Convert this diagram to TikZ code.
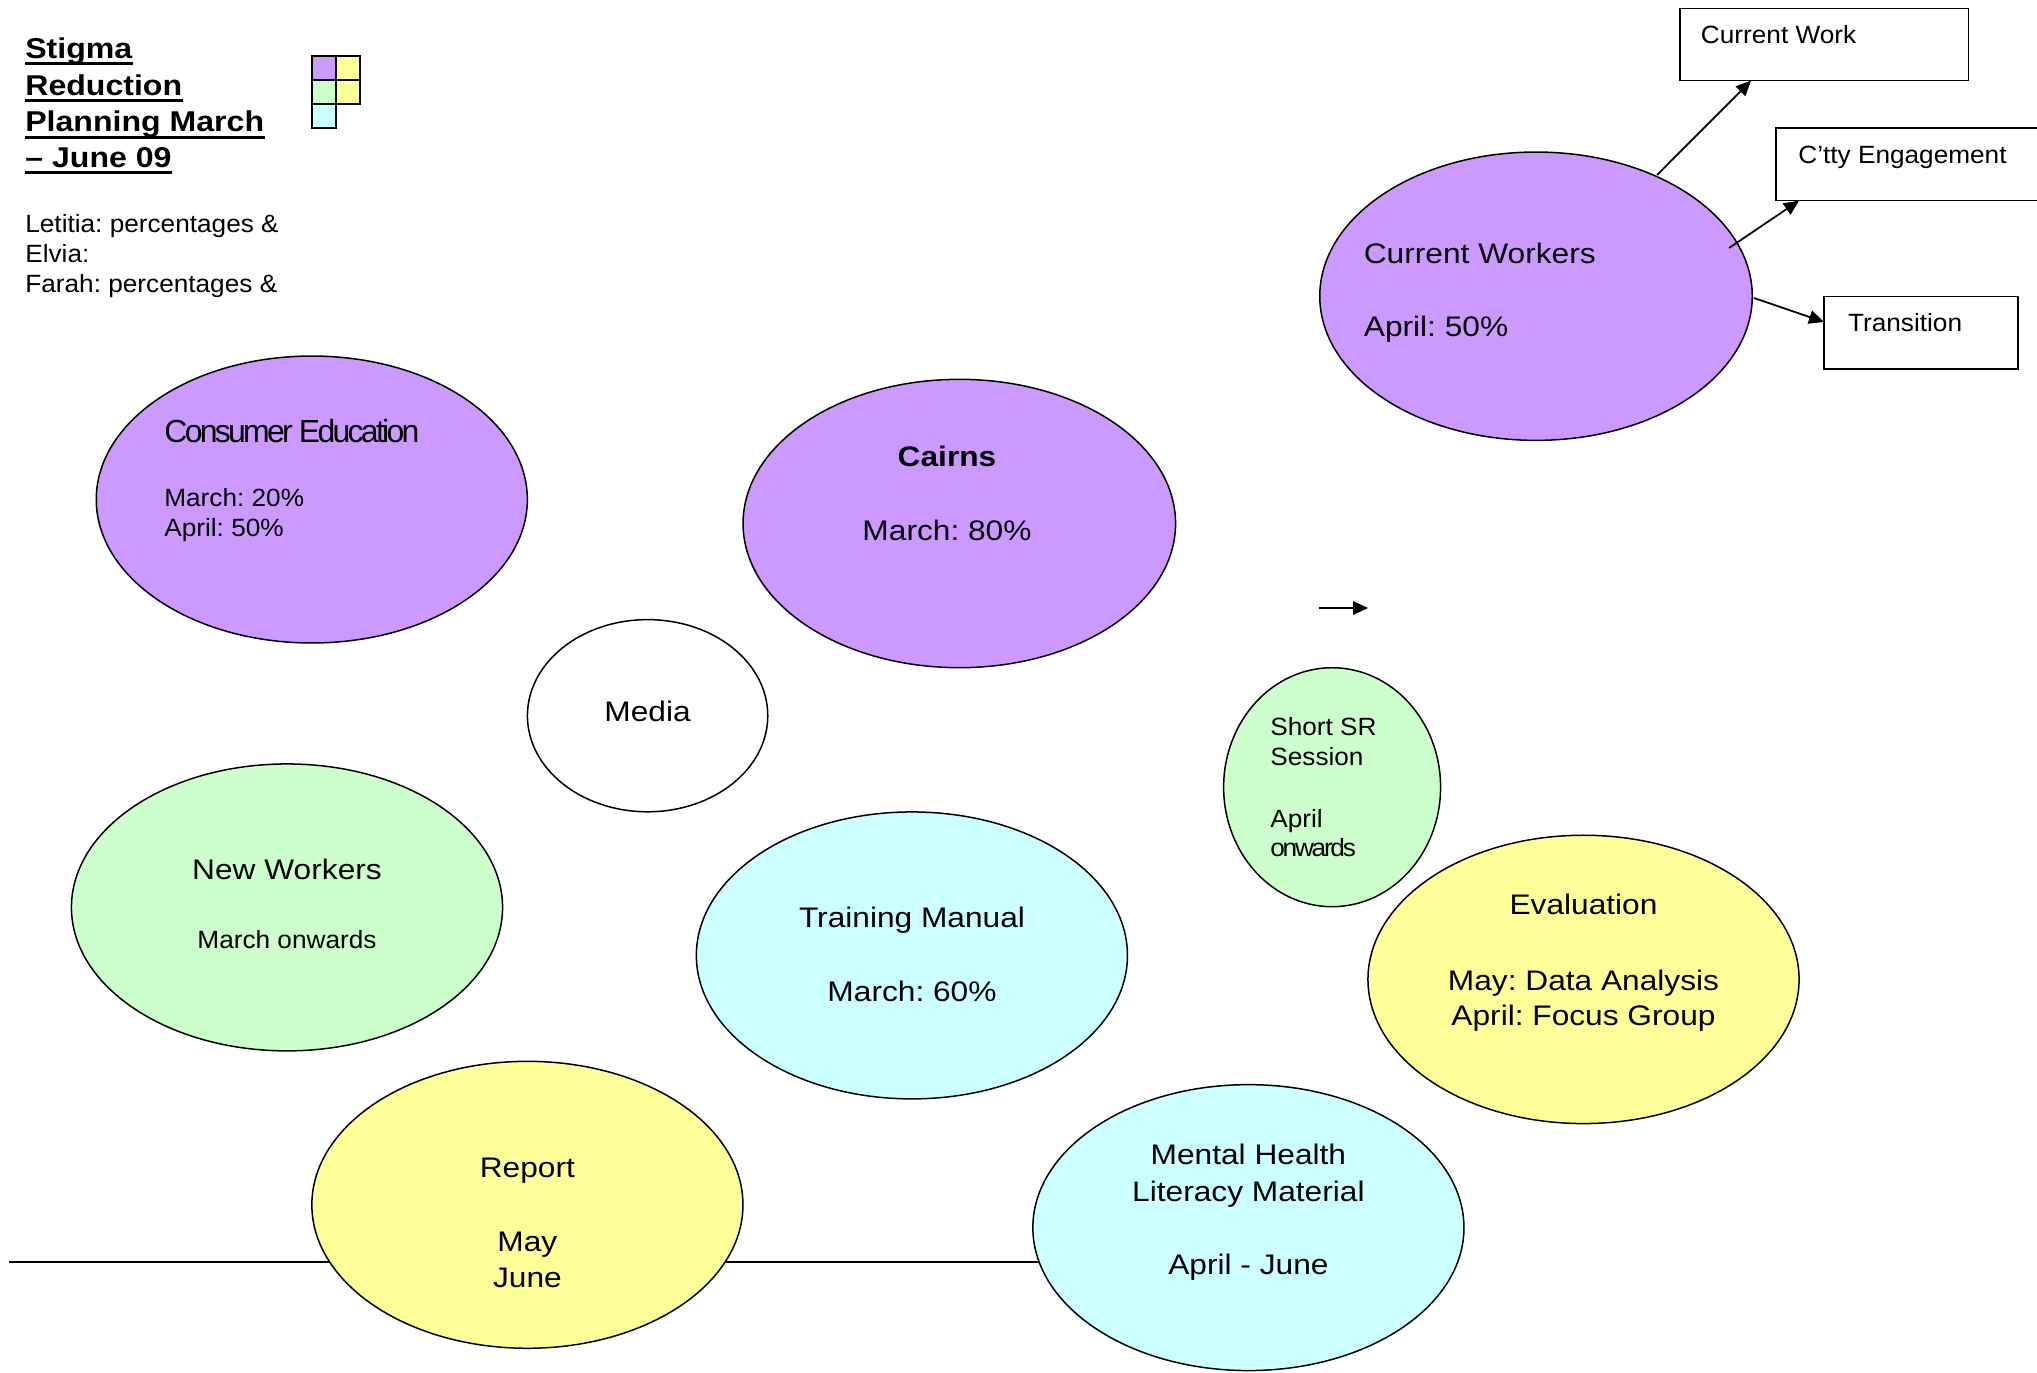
\documentclass[tikz,border=0pt]{standalone}
\usepackage{fontspec}
\setmainfont{Liberation Sans}
\newfontfamily\bigfam[FakeStretch=1.12]{Liberation Sans}
\newfontfamily\smallfam[FakeStretch=1.05]{Liberation Sans}
\newfontfamily\condfam[LetterSpace=-8.5]{Liberation Sans}
\newfontfamily\condsmallfam[FakeStretch=1.05,LetterSpace=-9]{Liberation Sans}
\usetikzlibrary{shapes.geometric,arrows.meta}
\definecolor{cpurple}{HTML}{CC99FF}
\definecolor{cyellow}{HTML}{FFFF99}
\definecolor{cgreen}{HTML}{CCFFCC}
\definecolor{ccyan}{HTML}{CCFFFF}
\newcommand\fbig{\bigfam\fontsize{16.1}{19}\selectfont}
\newcommand\ftitle{\bigfam\bfseries\fontsize{16.3}{19}\selectfont}
\newcommand\fsmall{\smallfam\fontsize{14.2}{17}\selectfont}
\newcommand\fcond{\condfam\fontsize{18.2}{21}\selectfont}
\newcommand\fcondsmall{\condsmallfam\fontsize{14.2}{17}\selectfont}
\frenchspacing
\tikzset{
  bub/.style={ellipse, draw, line width=0.85pt, inner sep=0pt},
  tc/.style={anchor=base, inner sep=0pt, font=\fbig},
  tl/.style={anchor=base west, inner sep=0pt, font=\fbig},
  tls/.style={anchor=base west, inner sep=0pt, font=\fsmall},
  tcs/.style={anchor=base, inner sep=0pt, font=\fsmall},
  ttl/.style={anchor=base west, inner sep=0pt, font=\ftitle},
  ul/.style={line width=1.8pt},
  boxn/.style={draw, line width=0.85pt, inner sep=0pt, fill=white},
  arr/.style={line width=1pt, -{Triangle[length=0.3cm,width=0.27cm]}},
  sq/.style={draw, line width=0.9pt}
}
\begin{document}
\begin{tikzpicture}[x=0.02cm,y=-0.02cm]
\clip (0,0) rectangle (2037,1372);
\fill[white] (0,0) rectangle (2037,1372);

% title
\node[ttl] (t1) at (25,58.3) {Stigma};
\node[ttl] (t2) at (25,95) {Reduction};
\node[ttl] (t3) at (25,132) {Planning March};
\node[ttl] (t4) at (25,167.5) {– June 09};
\foreach \t in {t1,t2,t3,t4}{
  \draw[ul] ([yshift=-2.9pt]\t.base west) -- ([yshift=-2.9pt]\t.base east);
}

% notes
\node[tls] (n1) at (25,232) {Letitia: percentages \&};
\node[tls] (n2) at (25,262) {Elvia:};
\node[tls] (n3) at (25,292) {Farah: percentages \&};

% legend squares
\draw[sq, fill=cpurple] (312,56) rectangle (336,80);
\draw[sq, fill=cyellow] (336,56) rectangle (360,80);
\draw[sq, fill=cgreen] (312,80) rectangle (336,104);
\draw[sq, fill=cyellow] (336,80) rectangle (360,104);
\draw[sq, fill=ccyan] (312,104) rectangle (336,128);

% bottom line
\coordinate (l0) at (9,1262);
\coordinate (l1) at (1045,1262);
\draw[line width=1.1pt] (l0) -- (l1);

% ellipses
\node[bub, fill=cpurple, minimum width=8.624cm, minimum height=5.74cm] (cons) at (311.8,499.5) {};
\node[bub, fill=cpurple, minimum width=8.652cm, minimum height=5.768cm] (cairns) at (959.3,523.5) {};
\node[bub, fill=cpurple, minimum width=8.652cm, minimum height=5.768cm] (curw) at (1536,296.2) {};
\node[bub, fill=white, minimum width=4.808cm, minimum height=3.844cm] (media) at (647.6,715.7) {};
\node[bub, fill=cgreen, minimum width=8.624cm, minimum height=5.74cm] (neww) at (287,907.4) {};
\node[bub, fill=ccyan, minimum width=8.624cm, minimum height=5.74cm] (train) at (911.9,955.4) {};
\node[bub, fill=cgreen, minimum width=4.34cm, minimum height=4.78cm] (short) at (1332.1,787.2) {};
\node[bub, fill=cyellow, minimum width=8.624cm, minimum height=5.768cm] (eval) at (1583.5,979.4) {};
\node[bub, fill=cyellow, minimum width=8.624cm, minimum height=5.74cm] (report) at (527.4,1204.8) {};
\node[bub, fill=ccyan, minimum width=8.624cm, minimum height=5.72cm] (mh) at (1248.4,1227.6) {};

% texts in ellipses
\node[anchor=base west, inner sep=0pt, font=\fcond] (cons1) at (164,442) {Consumer Education};
\node[tls] (cons2) at (164,506) {March: 20\%};
\node[tls] (cons3) at (164,536.5) {April: 50\%};

\node[tc, font=\fbig\bfseries] (cai1) at (947,466.5) {Cairns};
\node[tc] (cai2) at (947,540.5) {March: 80\%};

\node[tl] (cw1) at (1363.5,263.3) {Current Workers};
\node[tl] (cw2) at (1363.5,336.7) {April: 50\%};

\node[tc] (med1) at (647.6,721) {Media};

\node[tc] (nw1) at (287,879.5) {New Workers};
\node[tcs] (nw2) at (287,948) {March onwards};

\node[tc] (tm1) at (912,927.5) {Training Manual};
\node[tc] (tm2) at (912,1001.5) {March: 60\%};

\node[tls] (ss1) at (1270,735) {Short SR};
\node[tls] (ss2) at (1270,765) {Session};
\node[tls] (ss3) at (1270,827) {April};
\node[anchor=base west, inner sep=0pt, font=\fcondsmall] (ss4) at (1270,856.7) {onwards};

\node[tc] (ev1) at (1583.5,914.5) {Evaluation};
\node[tc] (ev2) at (1583.5,990) {May: Data Analysis};
\node[tc] (ev3) at (1583.5,1025) {April: Focus Group};

\node[tc] (rp1) at (527.4,1177) {Report};
\node[tc] (rp2) at (527.4,1251) {May};
\node[tc] (rp3) at (527.4,1287.5) {June};

\node[tc] (mh1) at (1248.4,1164) {Mental Health};
\node[tc] (mh2) at (1248.4,1201.7) {Literacy Material};
\node[tc] (mh3) at (1248.4,1274.5) {April - June};

% boxes
\node[boxn, minimum width=5.77cm, minimum height=1.448cm] (cwork) at (1824.25,44.5) {};
\node[boxn, minimum width=5.68cm, minimum height=1.454cm] (ctty) at (1918,164.35) {};
\node[boxn, minimum width=3.88cm, minimum height=1.446cm] (trans) at (1921,332.85) {};
\node[tls] (cworkt) at (1700.6,43.5) {Current Work};
\node[tls] (cttyt) at (1798,163.3) {C’tty Engagement};
\node[tls] (transt) at (1847.7,331.7) {Transition};

% arrows
\coordinate (a1s) at (1657,175);
\coordinate (a1e) at (1751,80.7);
\coordinate (a2s) at (1729,248);
\coordinate (a2e) at (1799,200.7);
\coordinate (a3s) at (1754,298);
\coordinate (a3e) at (1824,322);
\draw[arr] (a1s) -- (a1e);
\draw[arr] (a2s) -- (a2e);
\draw[arr] (a3s) -- (a3e);

\coordinate (a4s) at (1319,608);
\coordinate (a4e) at (1368,608);
\draw[arr, line width=1.1pt] (a4s) -- (a4e);
\end{tikzpicture}
\end{document}
